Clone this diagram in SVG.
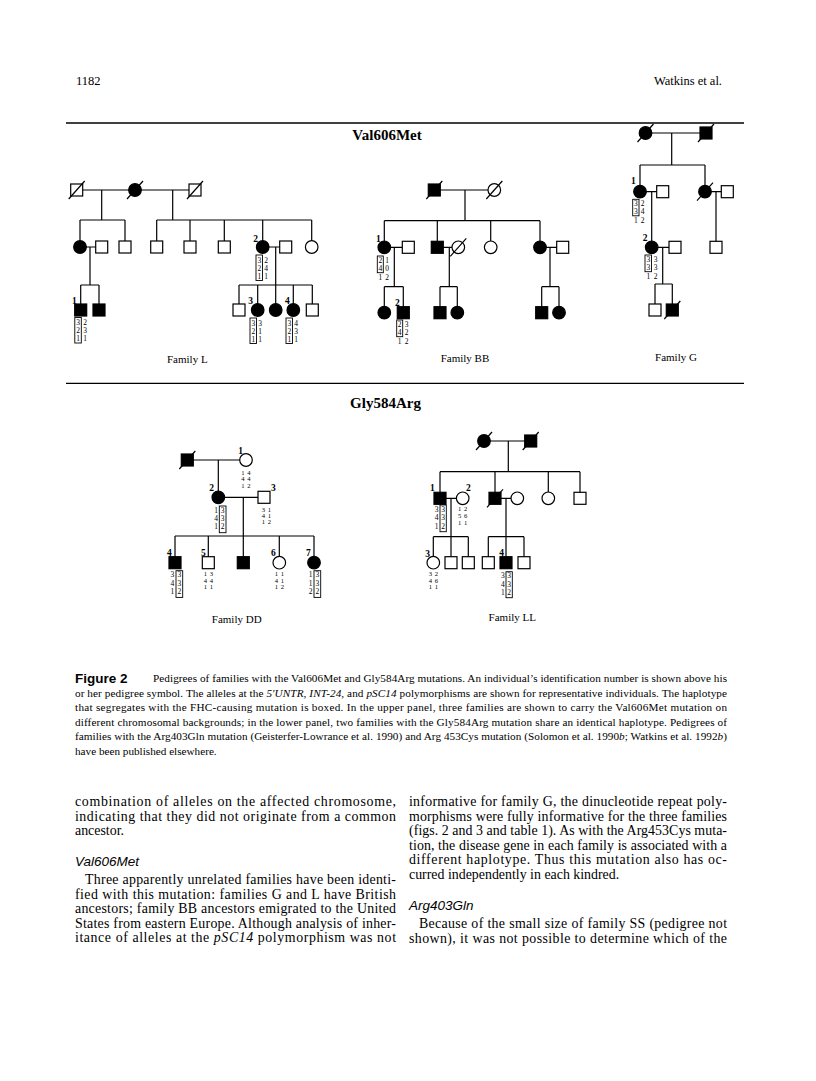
<svg xmlns="http://www.w3.org/2000/svg" width="816" height="1081" viewBox="0 0 816 1081">
<style>
.c{stroke:#000;stroke-width:1.2;fill:none}
.o{fill:#fff;stroke:#000;stroke-width:1.2}
.f{fill:#000;stroke:#000;stroke-width:1.2}
.sl{stroke:#000;stroke-width:1.2}
.hb{fill:none;stroke:#000;stroke-width:0.9}
.a{font-family:"Liberation Serif",serif;font-size:7.5px;text-anchor:middle}
.p{font-family:"Liberation Serif",serif;font-size:6.6px;text-anchor:middle}
.n{font-family:"Liberation Serif",serif;font-size:9.5px;font-weight:bold;text-anchor:middle}
.fam{font-family:"Liberation Serif",serif;font-size:11px;text-anchor:middle}
.ttl{font-family:"Liberation Serif",serif;font-size:15px;font-weight:bold;text-anchor:middle}
.hd{font-family:"Liberation Serif",serif;font-size:12.5px}
.cap{font-family:"Liberation Serif",serif;font-size:11.2px}
.body{font-family:"Liberation Serif",serif;font-size:13.9px}
.sh{font-family:"Liberation Sans",sans-serif;font-size:13.5px;font-style:italic}
.fig{font-family:"Liberation Sans",sans-serif;font-size:13.5px;font-weight:bold}
.rule{stroke:#000;stroke-width:1.3}
</style>
<defs>
<rect id="sq" x="-6" y="-6" width="12" height="12"/>
<circle id="ci" r="6.3"/>
<path id="sl" d="M-8,9 L8,-9"/>
</defs>
<rect width="816" height="1081" fill="#fff"/>

<g id="header">
<text class="hd" x="76" y="85">1182</text>
<text class="hd" x="722" y="85" text-anchor="end">Watkins et al.</text>
<line class="rule" x1="66" y1="123" x2="744" y2="123"/>
<line class="rule" x1="66" y1="383.3" x2="744" y2="383.3"/>
<text class="ttl" x="387" y="140">Val606Met</text>
<text class="ttl" x="385.5" y="408">Gly584Arg</text>
</g>

<g id="connectors" class="c">
<!-- Family L -->
<path d="M76.7,190H195M101.7,190V220M80,220H125M80,220V247M125,220V247M172.7,190V220M156.7,220H311.7M156.7,220V247M190,220V247M224.3,220V247M262.7,220V247M311.7,220V247"/>
<path d="M80,247H101.7M90,247V285M80.7,285H99M80.7,285V310M99,285V310"/>
<path d="M262.7,247H285.7M275.7,247V310M239,285H312.3M239,285V310M257.7,285V310M293.3,285V310M312.3,285V310"/>
<!-- Family BB -->
<path d="M434.3,190H494.3M465,190V220.7M384.3,220.7H540M384.3,220.7V247.3M437.3,220.7V247.3M490.7,220.7V247.3M540,220.7V247.3"/>
<path d="M384.3,247.3H408.3M394.3,247.3V286.7M384.3,286.7H403.3M384.3,286.7V312.7M403.3,286.7V312.7"/>
<path d="M437.3,247.3H458.3M449.3,247.3V286.7M440,286.7H457.3M440,286.7V312.7M457.3,286.7V312.7"/>
<path d="M540,247.3H562.7M550,247.3V286.7M541.7,286.7H559M541.7,286.7V312.7M559,286.7V312.7"/>
<!-- Family G -->
<path d="M645.5,133H706M671.7,133V165M640,165H705M640,165V191.7M705,165V191.7"/>
<path d="M640,191.7H662.7M651.7,191.7V247.3M705,191.7H727.3M716,191.7V247.3"/>
<path d="M651.7,247.3H675M662.7,247.3V284M655,284H672.3M655,284V310M672.3,284V310"/>
<!-- Family DD -->
<path d="M187.3,460H246M218.3,460V497.3M218.3,497.3H264M243.3,497.3V562.7M175,536H314M175,536V562.7M208.3,536V562.7M279.3,536V562.7M314,536V562.7"/>
<!-- Family LL -->
<path d="M484,441H530.7M508.3,441V471.7M440,471.7H580M440,471.7V498.3M495,471.7V498.3M548.3,471.7V498.3M580,471.7V498.3"/>
<path d="M440,498.3H462.7M451,498.3V562.7M433.3,536.7H468.3M433.3,536.7V562.7M468.3,536.7V562.7"/>
<path d="M495,498.3H517.3M506,498.3V562.7M488.3,536.7H524M488.3,536.7V562.7M524,536.7V562.7"/>
</g>

<!-- ===== Family L ===== -->
<g id="L-I1"><use href="#sq" class="o" x="76.7" y="190"/><use href="#sl" class="sl" x="76.7" y="190"/></g>
<g id="L-I2"><use href="#ci" class="f" x="135" y="190"/><use href="#sl" class="sl" x="135" y="190"/></g>
<g id="L-I3"><use href="#sq" class="o" x="195" y="190"/><use href="#sl" class="sl" x="195" y="190"/></g>
<g id="L-II1"><use href="#ci" class="f" x="80" y="247"/></g>
<g id="L-II2"><use href="#sq" class="o" x="101.7" y="247"/></g>
<g id="L-II3"><use href="#sq" class="o" x="125" y="247"/></g>
<g id="L-II4"><use href="#sq" class="o" x="156.7" y="247"/></g>
<g id="L-II5"><use href="#sq" class="o" x="190" y="247"/></g>
<g id="L-II6"><use href="#sq" class="o" x="224.3" y="247"/></g>
<g id="L-II7"><use href="#ci" class="f" x="262.7" y="247"/><text class="n" x="255.5" y="241.5">2</text>
<rect class="hb" x="256" y="255" width="6.5" height="25.5"/>
<text class="a" x="259.25 259.25 259.25" y="262.5 270.5 278.5">321</text>
<text class="a" x="266 266 266" y="262.5 270.5 278.5">241</text></g>
<g id="L-II8"><use href="#sq" class="o" x="285.7" y="247"/></g>
<g id="L-II9"><use href="#ci" class="o" x="311.7" y="247"/></g>
<g id="L-III1"><use href="#sq" class="f" x="80.7" y="310"/><text class="n" x="74.3" y="304">1</text>
<rect class="hb" x="74.8" y="317.5" width="6.5" height="25.5"/>
<text class="a" x="78.05 78.05 78.05" y="325 333 341">321</text>
<text class="a" x="85 85 85" y="325 333 341">231</text></g>
<g id="L-III2"><use href="#sq" class="f" x="99" y="310"/></g>
<g id="L-III3"><use href="#sq" class="o" x="239" y="310"/></g>
<g id="L-III4"><use href="#ci" class="f" x="257.7" y="310"/><text class="n" x="250.7" y="304">3</text>
<rect class="hb" x="250" y="318" width="6.5" height="25.5"/>
<text class="a" x="253.25 253.25 253.25" y="325.5 333.5 341.5">321</text>
<text class="a" x="260 260 260" y="325.5 333.5 341.5">311</text></g>
<g id="L-III5"><use href="#ci" class="f" x="275.7" y="310"/></g>
<g id="L-III6"><use href="#ci" class="f" x="293.3" y="310"/><text class="n" x="287.3" y="304">4</text>
<rect class="hb" x="286" y="318" width="6.5" height="25.5"/>
<text class="a" x="289.25 289.25 289.25" y="325.5 333.5 341.5">321</text>
<text class="a" x="296 296 296" y="325.5 333.5 341.5">431</text></g>
<g id="L-III7"><use href="#sq" class="o" x="312.3" y="310"/></g>
<text class="fam" x="187.3" y="363">Family L</text>

<!-- ===== Family BB ===== -->
<g id="BB-I1"><use href="#sq" class="f" x="434.3" y="190"/><use href="#sl" class="sl" x="434.3" y="190"/></g>
<g id="BB-I2"><use href="#ci" class="o" x="494.3" y="190"/><use href="#sl" class="sl" x="494.3" y="190"/></g>
<g id="BB-II1"><use href="#ci" class="f" x="384.3" y="247.3"/><text class="n" x="378.3" y="241.5">1</text>
<rect class="hb" x="377.3" y="256" width="6" height="16.7"/>
<text class="a" x="380.3 380.3 380.3" y="263 271 279.5">241</text>
<text class="a" x="387 387 387" y="263 271 279.5">102</text></g>
<g id="BB-II2"><use href="#sq" class="o" x="408.3" y="247.3"/></g>
<g id="BB-II3"><use href="#sq" class="f" x="437.3" y="247.3"/></g>
<g id="BB-II4"><use href="#ci" class="o" x="458.3" y="247.3"/><use href="#sl" class="sl" x="458.3" y="247.3"/></g>
<g id="BB-II5"><use href="#ci" class="o" x="490.7" y="247.3"/></g>
<g id="BB-II6"><use href="#ci" class="f" x="540" y="247.3"/></g>
<g id="BB-II7"><use href="#sq" class="o" x="562.7" y="247.3"/></g>
<g id="BB-III1"><use href="#ci" class="f" x="384.3" y="312.7"/></g>
<g id="BB-III2"><use href="#sq" class="f" x="403.3" y="312.7"/><text class="n" x="397.3" y="306">2</text>
<rect class="hb" x="396.7" y="320" width="6" height="16.7"/>
<text class="a" x="399.7 399.7 399.7" y="327 335 343.5">241</text>
<text class="a" x="406.5 406.5 406.5" y="327 335 343.5">322</text></g>
<g id="BB-III3"><use href="#sq" class="f" x="440" y="312.7"/></g>
<g id="BB-III4"><use href="#ci" class="f" x="457.3" y="312.7"/></g>
<g id="BB-III5"><use href="#sq" class="f" x="541.7" y="312.7"/></g>
<g id="BB-III6"><use href="#ci" class="f" x="559" y="312.7"/></g>
<text class="fam" x="465" y="362">Family BB</text>

<!-- ===== Family G ===== -->
<g id="G-I1"><use href="#ci" class="f" x="645.5" y="133"/><use href="#sl" class="sl" x="645.5" y="133"/></g>
<g id="G-I2"><use href="#sq" class="f" x="706" y="133"/><use href="#sl" class="sl" x="706" y="133"/></g>
<g id="G-II1"><use href="#ci" class="f" x="640" y="191.7"/><text class="n" x="633.3" y="184">1</text>
<rect class="hb" x="632.7" y="199.3" width="6.3" height="16.5"/>
<text class="a" x="635.85 635.85 635.85" y="206.3 214.3 222.8">331</text>
<text class="a" x="642.5 642.5 642.5" y="206.3 214.3 222.8">242</text></g>
<g id="G-II2"><use href="#sq" class="o" x="662.7" y="191.7"/></g>
<g id="G-II3"><use href="#ci" class="f" x="705" y="191.7"/><use href="#sl" class="sl" x="705" y="191.7"/></g>
<g id="G-II4"><use href="#sq" class="o" x="727.3" y="191.7"/></g>
<g id="G-III1"><use href="#ci" class="f" x="651.7" y="247.3"/><text class="n" x="645" y="241">2</text>
<rect class="hb" x="645" y="255" width="6.5" height="16.7"/>
<text class="a" x="648.25 648.25 648.25" y="262 270 278.5">331</text>
<text class="a" x="655.5 655.5 655.5" y="262 270 278.5">332</text></g>
<g id="G-III2"><use href="#sq" class="o" x="675" y="247.3"/></g>
<g id="G-III3"><use href="#sq" class="o" x="716" y="247.3"/></g>
<g id="G-IV1"><use href="#sq" class="o" x="655" y="310"/></g>
<g id="G-IV2"><use href="#sq" class="f" x="672.3" y="310"/><use href="#sl" class="sl" x="672.3" y="310"/></g>
<text class="fam" x="676" y="361">Family G</text>

<!-- ===== Family DD ===== -->
<g id="DD-I1"><use href="#sq" class="f" x="187.3" y="460"/><use href="#sl" class="sl" x="187.3" y="460"/></g>
<g id="DD-I2"><use href="#ci" class="o" x="246" y="460"/><text class="n" x="240.7" y="453.5">1</text>
<text class="p" x="243 249" y="475">14</text><text class="p" x="243 249" y="481.3">44</text><text class="p" x="243 249" y="487.7">12</text></g>
<g id="DD-II1"><use href="#ci" class="f" x="218.3" y="497.3"/><text class="n" x="211.7" y="491">2</text>
<text class="a" x="216 216 216" y="512.7 521 529.4">141</text>
<rect class="hb" x="219.3" y="506" width="6.7" height="26.7"/>
<text class="a" x="222.65 222.65 222.65" y="512.7 521 529.4">332</text></g>
<g id="DD-II2"><use href="#sq" class="o" x="264" y="497.3"/><text class="n" x="273.3" y="491">3</text>
<text class="p" x="263.5 269.5" y="511.5">31</text><text class="p" x="263.5 269.5" y="517.8">41</text><text class="p" x="263.5 269.5" y="524.1">12</text></g>
<g id="DD-III1"><use href="#sq" class="f" x="175" y="562.7"/><text class="n" x="169.3" y="556">4</text>
<text class="a" x="172.3 172.3 172.3" y="577.4 585.7 594">341</text>
<rect class="hb" x="176" y="570.7" width="6.7" height="26.7"/>
<text class="a" x="179.35 179.35 179.35" y="577.4 585.7 594">332</text></g>
<g id="DD-III2"><use href="#sq" class="o" x="208.3" y="562.7"/><text class="n" x="203.3" y="556">5</text>
<text class="p" x="205.3 211.3" y="576">13</text><text class="p" x="205.3 211.3" y="582.5">44</text><text class="p" x="205.3 211.3" y="589">11</text></g>
<g id="DD-III3"><use href="#sq" class="f" x="243.3" y="562.7"/></g>
<g id="DD-III4"><use href="#ci" class="o" x="279.3" y="562.7"/><text class="n" x="273.3" y="556">6</text>
<text class="p" x="276.3 282.3" y="576">11</text><text class="p" x="276.3 282.3" y="582.5">41</text><text class="p" x="276.3 282.3" y="589">12</text></g>
<g id="DD-III5"><use href="#ci" class="f" x="314" y="562.7"/><text class="n" x="308.3" y="556">7</text>
<text class="a" x="310.7 310.7 310.7" y="577.4 585.7 594">112</text>
<rect class="hb" x="314" y="570.7" width="6.7" height="26.7"/>
<text class="a" x="317.35 317.35 317.35" y="577.4 585.7 594">332</text></g>
<text class="fam" x="236.7" y="623">Family DD</text>

<!-- ===== Family LL ===== -->
<g id="LL-I1"><use href="#ci" class="f" x="484" y="441"/><use href="#sl" class="sl" x="484" y="441"/></g>
<g id="LL-I2"><use href="#sq" class="f" x="530.7" y="441"/><use href="#sl" class="sl" x="530.7" y="441"/></g>
<g id="LL-II1"><use href="#sq" class="f" x="440" y="498.3"/><text class="n" x="432.3" y="491">1</text>
<text class="a" x="436.5 436.5 436.5" y="511.5 520 528.5">341</text>
<rect class="hb" x="440" y="505" width="6.3" height="26.7"/>
<text class="a" x="443.15 443.15 443.15" y="511.5 520 528.5">332</text></g>
<g id="LL-II2"><use href="#ci" class="o" x="462.7" y="498.3"/><text class="n" x="468.3" y="491">2</text>
<text class="p" x="459.7 465.7" y="510.7">12</text><text class="p" x="459.7 465.7" y="517.5">56</text><text class="p" x="459.7 465.7" y="524.5">11</text></g>
<g id="LL-II3"><use href="#sq" class="f" x="495" y="498.3"/><use href="#sl" class="sl" x="495" y="498.3"/></g>
<g id="LL-II4"><use href="#ci" class="o" x="517.3" y="498.3"/></g>
<g id="LL-II5"><use href="#ci" class="o" x="548.3" y="498.3"/></g>
<g id="LL-II6"><use href="#sq" class="o" x="580" y="498.3"/></g>
<g id="LL-III1"><use href="#ci" class="o" x="433.3" y="562.7"/><text class="n" x="427.5" y="556.5">3</text>
<text class="p" x="430.3 436.3" y="576">32</text><text class="p" x="430.3 436.3" y="582.5">46</text><text class="p" x="430.3 436.3" y="589">11</text></g>
<g id="LL-III2"><use href="#sq" class="o" x="451" y="562.7"/></g>
<g id="LL-III3"><use href="#sq" class="o" x="468.3" y="562.7"/></g>
<g id="LL-III4"><use href="#sq" class="o" x="488.3" y="562.7"/></g>
<g id="LL-III5"><use href="#sq" class="f" x="506" y="562.7"/><text class="n" x="501.7" y="556">4</text>
<text class="a" x="502.8 502.8 502.8" y="578.4 586.7 595">341</text>
<rect class="hb" x="506" y="571.7" width="6.3" height="26"/>
<text class="a" x="509.15 509.15 509.15" y="578.4 586.7 595">332</text></g>
<g id="LL-III6"><use href="#sq" class="o" x="524" y="562.7"/></g>
<text class="fam" x="512.3" y="621">Family LL</text>

<!-- ===== Caption ===== -->
<g id="caption">
<text class="fig" x="75" y="682.5">Figure 2</text>
<text class="cap" x="153" y="682" textLength="574" lengthAdjust="spacing">Pedigrees of families with the Val606Met and Gly584Arg mutations. An individual’s identification number is shown above his</text>
<text class="cap" x="75" y="696.5" textLength="652" lengthAdjust="spacing">or her pedigree symbol. The alleles at the <tspan font-style="italic">5′UNTR, INT-24,</tspan> and <tspan font-style="italic">pSC14</tspan> polymorphisms are shown for representative individuals. The haplotype</text>
<text class="cap" x="75" y="711" textLength="652" lengthAdjust="spacing">that segregates with the FHC-causing mutation is boxed. In the upper panel, three families are shown to carry the Val606Met mutation on</text>
<text class="cap" x="75" y="725.5" textLength="652" lengthAdjust="spacing">different chromosomal backgrounds; in the lower panel, two families with the Gly584Arg mutation share an identical haplotype. Pedigrees of</text>
<text class="cap" x="75" y="740" textLength="652" lengthAdjust="spacing">families with the Arg403Gln mutation (Geisterfer-Lowrance et al. 1990) and Arg 453Cys mutation (Solomon et al. 1990<tspan font-style="italic">b</tspan>; Watkins et al. 1992<tspan font-style="italic">b</tspan>)</text>
<text class="cap" x="75" y="754.5">have been published elsewhere.</text>
</g>

<!-- ===== Body text ===== -->
<g id="body-left">
<text class="body" x="75" y="806" textLength="321" lengthAdjust="spacing">combination of alleles on the affected chromosome,</text>
<text class="body" x="75" y="820.5" textLength="321" lengthAdjust="spacing">indicating that they did not originate from a common</text>
<text class="body" x="75" y="835">ancestor.</text>
<text class="sh" x="75" y="866">Val606Met</text>
<text class="body" x="85" y="884" textLength="311" lengthAdjust="spacing">Three apparently unrelated families have been identi-</text>
<text class="body" x="75" y="898.5" textLength="321" lengthAdjust="spacing">fied with this mutation: families G and L have British</text>
<text class="body" x="75" y="913" textLength="321" lengthAdjust="spacing">ancestors; family BB ancestors emigrated to the United</text>
<text class="body" x="75" y="927.5" textLength="321" lengthAdjust="spacing">States from eastern Europe. Although analysis of inher-</text>
<text class="body" x="75" y="942" textLength="321" lengthAdjust="spacing">itance of alleles at the <tspan font-style="italic">pSC14</tspan> polymorphism was not</text>
</g>
<g id="body-right">
<text class="body" x="409" y="806" textLength="318" lengthAdjust="spacing">informative for family G, the dinucleotide repeat poly-</text>
<text class="body" x="409" y="820.5" textLength="318" lengthAdjust="spacing">morphisms were fully informative for the three families</text>
<text class="body" x="409" y="835" textLength="318" lengthAdjust="spacing">(figs. 2 and 3 and table 1). As with the Arg453Cys muta-</text>
<text class="body" x="409" y="849.5" textLength="318" lengthAdjust="spacing">tion, the disease gene in each family is associated with a</text>
<text class="body" x="409" y="864" textLength="318" lengthAdjust="spacing">different haplotype. Thus this mutation also has oc-</text>
<text class="body" x="409" y="878.5">curred independently in each kindred.</text>
<text class="sh" x="409" y="910">Arg403Gln</text>
<text class="body" x="419" y="928" textLength="308" lengthAdjust="spacing">Because of the small size of family SS (pedigree not</text>
<text class="body" x="409" y="942.5" textLength="318" lengthAdjust="spacing">shown), it was not possible to determine which of the</text>
</g>
</svg>
